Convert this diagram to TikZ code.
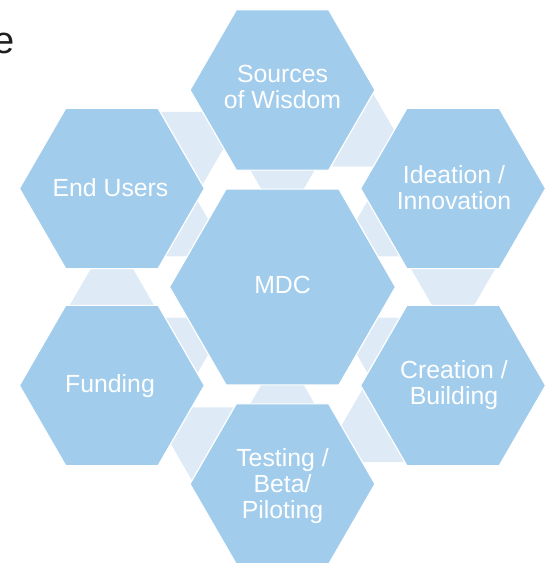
\documentclass[tikz,border=0pt]{standalone}
\usepackage{fontspec}
\newfontfamily\arialf{Liberation Sans}
\definecolor{hexblue}{RGB}{161,204,236}
\definecolor{linkblue}{RGB}{222,235,247}
\definecolor{inkgray}{RGB}{30,30,30}
\begin{document}
\begin{tikzpicture}[x=1pt,y=-1pt,
  hexfill/.style={fill=hexblue,draw=white,line width=1.2pt,line join=miter},
  linkfill/.style={fill=linkblue},
  lbl/.style={text=white,font=\arialf\fontsize{24.8}{26}\selectfont,align=center,inner sep=0pt,text depth=0pt}]
\useasboundingbox (0,0) rectangle (552,563);
\coordinate (O) at (282.5,287);
\coordinate (cS) at (282.5,90);
\coordinate (cI) at (453.1,188.5);
\coordinate (cC) at (453.1,385.5);
\coordinate (cT) at (282.5,484);
\coordinate (cF) at (111.9,385.5);
\coordinate (cE) at (111.9,188.5);
% light link shapes (drawn behind the hexagons)
\foreach \k in {0,...,5} {
  \begin{scope}[rotate around={60*\k:(O)}]
    \path[linkfill] (247.4,165) -- (317.6,165) -- (282.5,225.7) -- cycle;
    \path[linkfill] (370.1,88.5) -- (415.2,166.6) -- (325,166.6) -- cycle;
  \end{scope}
}
% hexagons
\foreach \c/\r in {cS/92.5,cI/92.5,cC/92.5,cT/92.5,cF/92.5,cE/92.5,O/113} {
  \path[hexfill,shift={(\c)}] (0:\r) -- (60:\r) -- (120:\r) -- (180:\r) -- (240:\r) -- (300:\r) -- cycle;
}
% labels
\node[lbl] (tS) at (282.5,86.7) {Sources\\of Wisdom};
\node[lbl] (tE) at (110.5,187.5) {End Users};
\node[lbl] (tI) at (454,187.2) {Ideation /\\Innovation};
\node[lbl] (tM) at (282.5,284.7) {MDC};
\node[lbl] (tC) at (454,382.2) {Creation /\\Building};
\node[lbl] (tF) at (110,383.3) {Funding};
\node[lbl] (tT) at (282.5,483.3) {Testing /\\Beta/\\Piloting};
% cropped fragment of text at the top left
\node[anchor=base west,inner sep=0pt,text=inkgray,font=\arialf\fontsize{38}{40}\selectfont] (frag) at (-6.9,53.3) {e};
\end{tikzpicture}
\end{document}
